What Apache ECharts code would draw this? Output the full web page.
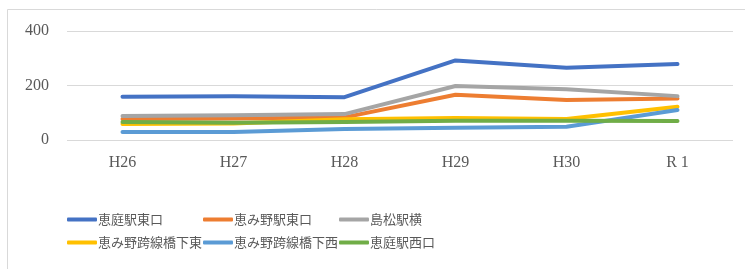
<!DOCTYPE html>
<html>
<head>
<meta charset="utf-8">
<script src="https://cdn.jsdelivr.net/npm/echarts@6/dist/echarts.min.js"></script>
<style>
html, body { margin: 0; padding: 0; background: #fff; }
#chart { width: 745px; height: 269px; }
</style>
</head>
<body>
<div id="chart"></div>
<script>
var years = ['H26', 'H27', 'H28', 'H29', 'H30', 'R 1'];
var yTicks = [0, 200, 400];

var names = ['恵庭駅東口', '恵み野駅東口', '島松駅横', '恵み野跨線橋下東', '恵み野跨線橋下西', '恵庭駅西口'];
var ekiHigashi = [159, 161, 157, 292, 265, 279];
var meguminoHigashi = [77, 79, 83, 166, 147, 152];
var shimamatsu = [88, 91, 95, 198, 186, 161];
var kosenHigashi = [59, 61, 76, 81, 77, 122];
var kosenNishi = [29, 29, 40, 45, 49, 110];
var ekiNishi = [66, 63, 66, 71, 71, 70];

var colors = ['#4472C4', '#ED7D31', '#A5A5A5', '#FFC000', '#5B9BD5', '#70AD47'];
var values = [ekiHigashi, meguminoHigashi, shimamatsu, kosenHigashi, kosenNishi, ekiNishi];

var dom = document.getElementById('chart');
var myChart = echarts.init(dom, null, { renderer: 'canvas' });

// legend laid out as a 3-column grid, one legend per entry
var legendCols = [62, 198, 334];
var legendRows = [208, 231];
var legends = names.map(function (n, i) {
    return {
        data: [n],
        left: legendCols[i % 3],
        top: legendRows[Math.floor(i / 3)],
        icon: 'roundRect',
        itemWidth: 30,
        itemHeight: 4,
        textStyle: {
            fontFamily: 'Noto Sans CJK JP',
            fontSize: 13,
            color: '#595959',
            padding: [0, 0, 0, -4]
        }
    };
});

var option = {
    backgroundColor: '#ffffff',
    animation: false,
    color: colors,
    graphic: [{
        type: 'rect',
        shape: { x: 7.5, y: 9.5, width: 745, height: 270 },
        style: { fill: 'none', stroke: '#D9D9D9', lineWidth: 1 },
        silent: true
    }],
    grid: { left: 67, right: 12, top: 31, bottom: 129 },
    legend: legends,
    xAxis: {
        type: 'category',
        data: years,
        axisLine: { show: false },
        axisTick: { show: false },
        axisLabel: {
            color: '#595959',
            fontFamily: 'Liberation Serif',
            fontSize: 16,
            margin: 15
        }
    },
    yAxis: {
        type: 'value',
        min: yTicks[0],
        max: yTicks[yTicks.length - 1],
        interval: yTicks[1] - yTicks[0],
        axisLabel: {
            color: '#595959',
            fontFamily: 'Liberation Serif',
            fontSize: 16,
            margin: 18
        },
        splitLine: { lineStyle: { color: '#D9D9D9', width: 1 } }
    },
    series: names.map(function (n, i) {
        return {
            name: n,
            type: 'line',
            data: values[i],
            symbol: 'none',
            lineStyle: { width: 4, cap: 'round', join: 'round', color: colors[i] },
            itemStyle: { color: colors[i] }
        };
    })
};

myChart.setOption(option);
window.addEventListener('resize', myChart.resize);
</script>
</body>
</html>
